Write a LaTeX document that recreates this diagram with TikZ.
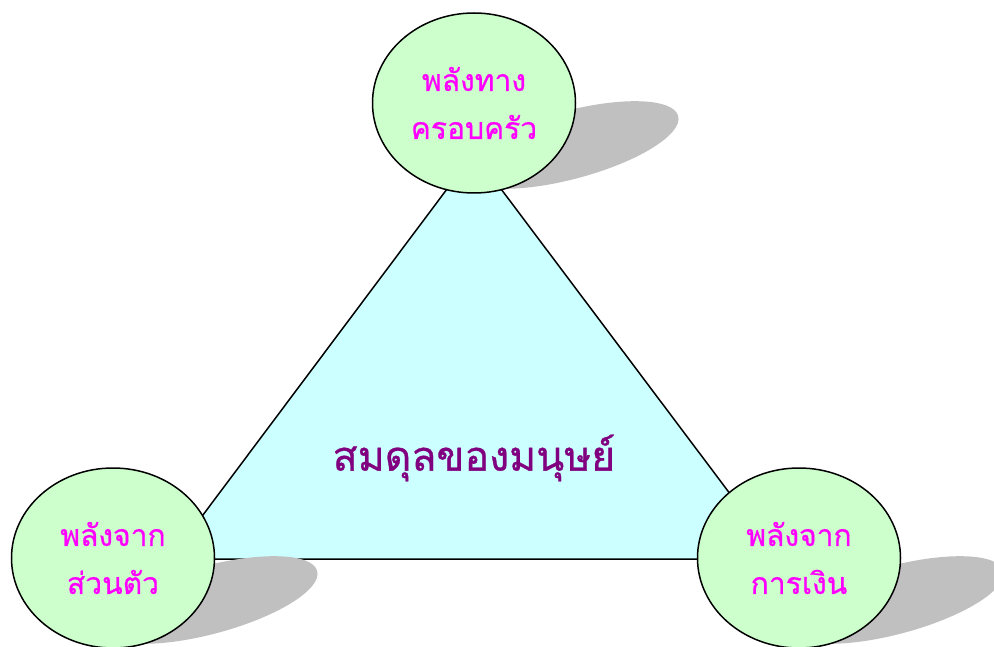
\documentclass[tikz,border=0pt]{standalone}
\usepackage{fontspec}
\newfontfamily\thaifont[Script=Thai, FakeBold=0.7]{Loma}
\usetikzlibrary{shapes.geometric}
\definecolor{ballgreen}{HTML}{CCFFCC}
\definecolor{triancyan}{HTML}{CCFFFF}
\definecolor{shadowgray}{HTML}{C0C0C0}
\definecolor{textpink}{HTML}{FF00FF}
\definecolor{textpurple}{HTML}{800080}
\tikzset{
  ball/.style={ellipse, draw=black, line width=1.5pt, fill=ballgreen,
    minimum width=203pt, minimum height=180pt, inner sep=0pt,
    align=center, text=textpink,
    font=\thaifont\fontsize{30}{48}\selectfont},
  ballshadow/.style={fill=shadowgray}
}
\begin{document}
\begin{tikzpicture}[x=1pt, y=-1pt]
    \useasboundingbox (0,0) rectangle (994,647);
    % triangle corners
    \coordinate (apex) at (474,153);
    \coordinate (left) at (170,559);
    \coordinate (right) at (779,559);
    \filldraw[fill=triancyan, draw=black, line width=1.5pt]
        (apex) -- (left) -- (right) -- cycle;
    \node[text=textpurple, font=\thaifont\fontsize{41}{50}\selectfont]
        (balance) at (474,458) {สมดุลของมนุษย์};
    % shadows
    \fill[ballshadow, rotate around={15:(570,145)}]
        (570,145) ellipse (112 and 34);
    \fill[ballshadow, rotate around={15:(209,600)}]
        (209,600) ellipse (112 and 34);
    \fill[ballshadow, rotate around={15:(895,600)}]
        (895,600) ellipse (112 and 34);
    % circles
    \node[ball] (family) at (474,103) {พลังทาง\\ครอบครัว};
    \node[ball] (self) at (113,558) {พลังจาก\\ส่วนตัว};
    \node[ball] (money) at (799,558) {พลังจาก\\การเงิน};
\end{tikzpicture}
\end{document}
